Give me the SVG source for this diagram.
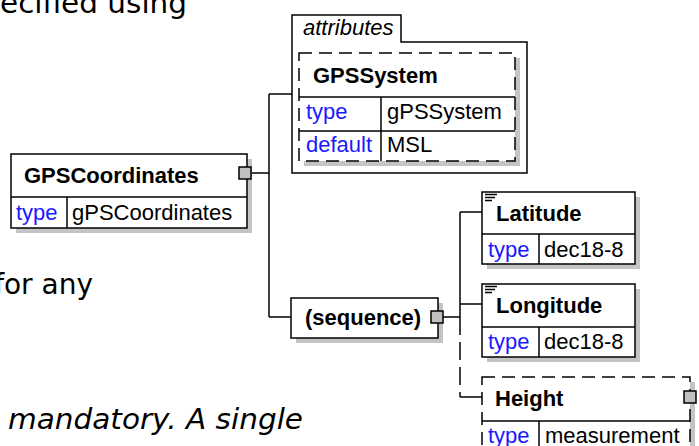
<svg xmlns="http://www.w3.org/2000/svg" width="699" height="446" viewBox="0 0 699 446">
<style>
.bg{fill:#ffffff}
.box{fill:#ffffff;stroke:#000;stroke-width:1.5}
.dbox{fill:#ffffff;stroke:#000;stroke-width:1.5;stroke-dasharray:13 7}
.sh{fill:#c4c4c4}
.ln{stroke:#000;stroke-width:1.5;fill:none}
.dl{stroke:#000;stroke-width:1.5;fill:none;stroke-dasharray:18 7}
.sq{fill:#c0c0c0;stroke:#000;stroke-width:1.5}
.t{font-family:"Liberation Sans",Arial,sans-serif;font-size:22px;fill:#000}
.b{font-weight:bold}
.k{fill:#1a1aff}
.i{font-style:italic}
.doc{font-family:"DejaVu Sans",Verdana,sans-serif;font-size:28px;fill:#000}
</style>
<rect class="bg" x="0" y="0" width="699" height="446"/>

<g id="doc-text">
<text class="doc" x="0" y="13" font-size="29" textLength="187" lengthAdjust="spacingAndGlyphs">ecified using</text>
<text class="doc" x="93" y="294" text-anchor="end">for any</text>
<text class="doc" x="8" y="429" font-style="italic" textLength="295" lengthAdjust="spacingAndGlyphs">mandatory. A single</text>
</g>

<g id="connectors">
<line class="ln" x1="251" y1="173" x2="269" y2="173"/>
<line class="ln" x1="269" y1="94" x2="269" y2="317"/>
<line class="ln" x1="269" y1="94" x2="292" y2="94"/>
<line class="ln" x1="269" y1="317" x2="291" y2="317"/>
<line class="ln" x1="443" y1="317" x2="460" y2="317"/>
<line class="ln" x1="460" y1="212" x2="460" y2="317"/>
<line class="dl" x1="460" y1="317" x2="460" y2="397"/>
<line class="ln" x1="460" y1="212" x2="482" y2="212"/>
<line class="ln" x1="460" y1="304" x2="482" y2="304"/>
<line class="ln" x1="460" y1="397" x2="482" y2="397"/>
</g>

<g id="GPSCoordinates">
<rect class="sh" x="16" y="159" width="236" height="74"/>
<rect class="box" x="11" y="154" width="236" height="74"/>
<line class="ln" x1="11" y1="197" x2="247" y2="197"/>
<line class="ln" x1="67" y1="197" x2="67" y2="228"/>
<text class="t b" x="24" y="183">GPSCoordinates</text>
<text class="t k" x="16" y="220">type</text>
<text class="t" x="72" y="220">gPSCoordinates</text>
<rect class="sq" x="239" y="167" width="12" height="12"/>
</g>

<g id="attributes">
<path class="ln" d="M292,173 V15 H401 V42 H527 V173 Z" fill="#fff"/>
<text class="t i" x="303" y="35">attributes</text>
</g>

<g id="GPSSystem">
<rect class="sh" x="304" y="58" width="216" height="108"/>
<rect class="dbox" x="299" y="53" width="216" height="108"/>
<line class="ln" x1="299" y1="97" x2="515" y2="97"/>
<line class="ln" x1="299" y1="131" x2="515" y2="131"/>
<line class="ln" x1="381" y1="97" x2="381" y2="161"/>
<text class="t b" x="313" y="83">GPSSystem</text>
<text class="t k" x="306" y="119">type</text>
<text class="t" x="387" y="119">gPSSystem</text>
<text class="t k" x="306" y="152">default</text>
<text class="t" x="387" y="152">MSL</text>
</g>

<g id="sequence">
<rect class="sh" x="296" y="303" width="147" height="40"/>
<rect class="box" x="291" y="298" width="147" height="40"/>
<text class="t b" x="305" y="325">(sequence)</text>
<rect class="sq" x="431" y="311" width="12" height="12"/>
</g>

<g id="Latitude">
<rect class="sh" x="487" y="197" width="153" height="72"/>
<rect class="box" x="482" y="192" width="153" height="72"/>
<line class="ln" x1="482" y1="234" x2="635" y2="234"/>
<line class="ln" x1="539" y1="234" x2="539" y2="264"/>
<path class="ln" d="M485,194.5 H497 M485,197.5 H495 M485,200.5 H492" stroke-width="1.2"/>
<text class="t b" x="496" y="221">Latitude</text>
<text class="t k" x="488" y="257">type</text>
<text class="t" x="544" y="257">dec18-8</text>
</g>

<g id="Longitude">
<rect class="sh" x="487" y="289" width="153" height="73"/>
<rect class="box" x="482" y="284" width="153" height="73"/>
<line class="ln" x1="482" y1="327" x2="635" y2="327"/>
<line class="ln" x1="539" y1="327" x2="539" y2="357"/>
<path class="ln" d="M485,286.5 H497 M485,289.5 H495 M485,292.5 H492" stroke-width="1.2"/>
<text class="t b" x="496" y="313">Longitude</text>
<text class="t k" x="488" y="349">type</text>
<text class="t" x="544" y="349">dec18-8</text>
</g>

<g id="Height">
<rect class="sh" x="487" y="382" width="208" height="76"/>
<rect class="dbox" x="482" y="377" width="208" height="76"/>
<line class="ln" x1="482" y1="421" x2="690" y2="421"/>
<line class="ln" x1="539" y1="421" x2="539" y2="453"/>
<text class="t b" x="495" y="406">Height</text>
<text class="t k" x="488" y="443">type</text>
<text class="t" x="545" y="443">measurement</text>
<rect class="sq" x="684" y="391" width="12" height="12"/>
</g>
</svg>
